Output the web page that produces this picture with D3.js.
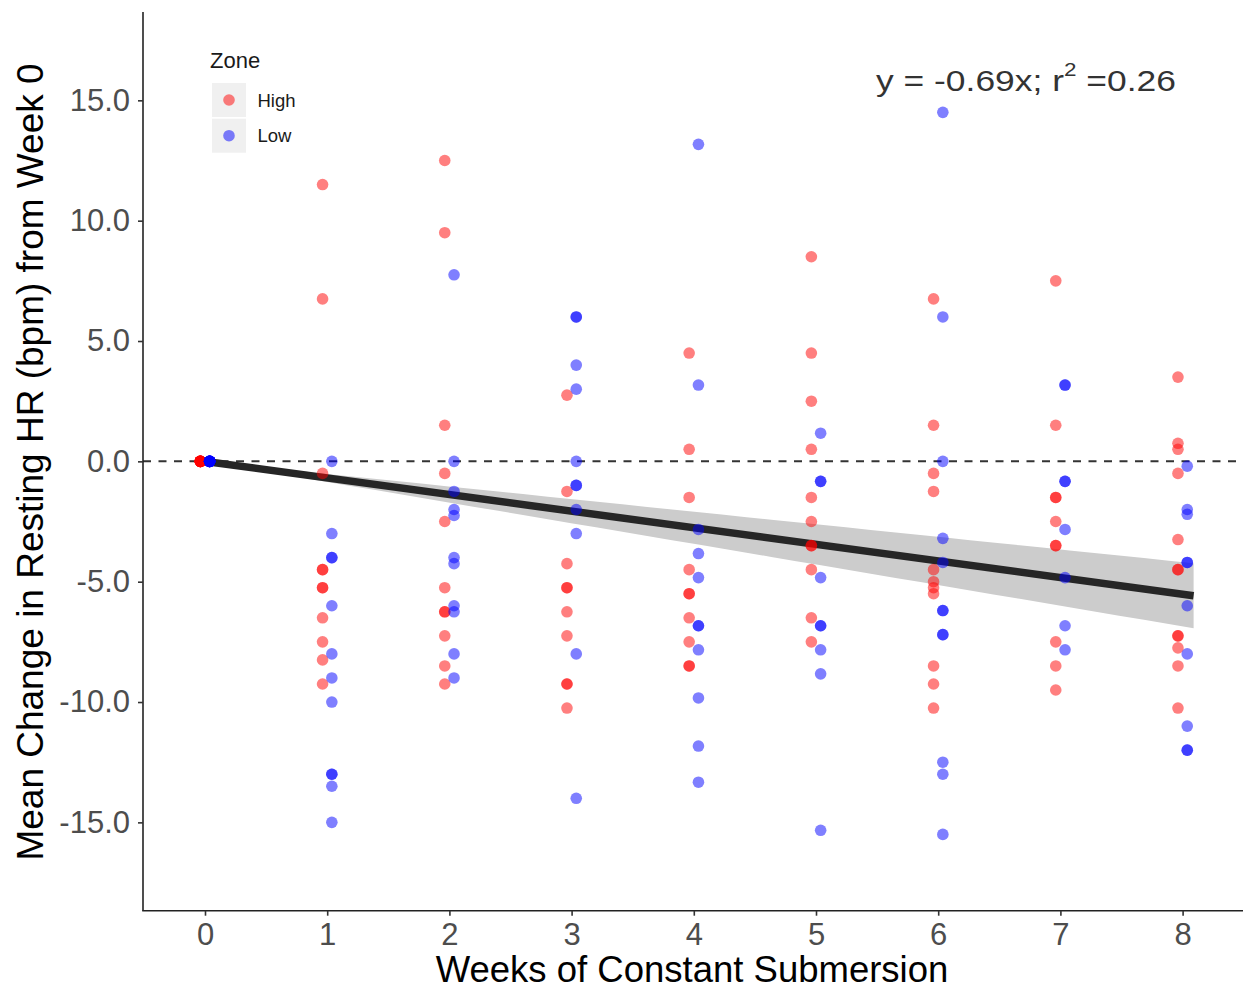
<!DOCTYPE html>
<html><head><meta charset="utf-8">
<script src="https://cdn.jsdelivr.net/npm/d3@7"></script>
<style>
body{margin:0;background:#fff}
svg{display:block}
text{font-family:"Liberation Sans", Arial, Helvetica, sans-serif}
</style>
</head><body>
<svg id="chart" width="1243" height="990"></svg>
<script>
// ---- data ----
const weeks = [0, 1, 2, 3, 4, 5, 6, 7, 8];
const zones = ["High", "Low"];
const zoneColors = ["#ff0000", "#0000ff"];
// mean change in resting HR per individual, grouped by week (High zone)
const highValues = [
  [0,0,0,0,0,0,0,0,0,0,0],
  [11.5, 6.75, -0.5, -4.5, -4.5, -5.25, -5.25, -6.5, -7.5, -8.25, -9.25],
  [12.5, 9.5, 1.5, -0.5, -2.5, -5.25, -6.25, -6.25, -7.25, -8.5, -9.25],
  [2.75, -1.25, -4.25, -5.25, -5.25, -6.25, -7.25, -9.25, -9.25, -10.25],
  [4.5, 0.5, -1.5, -4.5, -5.5, -5.5, -6.5, -7.5, -8.5, -8.5],
  [8.5, 4.5, 2.5, 0.5, -1.5, -2.5, -3.5, -3.5, -4.5, -6.5, -7.5],
  [6.75, 1.5, -0.5, -1.25, -4.5, -5, -5.25, -5.5, -8.5, -9.25, -10.25],
  [7.5, 1.5, -1.5, -1.5, -2.5, -3.5, -3.5, -7.5, -8.5, -9.5],
  [3.5, 0.75, 0.5, -0.5, -3.25, -4.5, -4.5, -7.25, -7.25, -7.75, -8.5, -10.25]
];
// (Low zone)
const lowValues = [
  [0,0,0,0,0,0,0,0,0,0,0],
  [0, -3, -4, -4, -6, -8, -9, -10, -13, -13, -13.5, -15],
  [7.75, 0, -1.25, -2, -2.25, -4, -4.25, -6, -6.25, -8, -9],
  [6, 6, 4, 3, 0, -1, -1, -2, -3, -8, -14],
  [13.17, 3.17, -2.83, -3.83, -4.83, -6.83, -6.83, -7.83, -9.83, -11.83, -13.33],
  [1.17, -0.83, -0.83, -4.83, -6.83, -6.83, -7.83, -8.83, -15.33],
  [14.5, 6, 0, -3.2, -4.2, -6.2, -6.2, -7.2, -7.2, -12.5, -13, -15.5],
  [3.17, 3.17, -0.83, -0.83, -2.83, -4.83, -6.83, -7.83],
  [-0.2, -2, -2.2, -4.2, -4.2, -6, -8, -11, -12, -12]
];
const yTicks = [-15, -10, -5, 0, 5, 10, 15];
const xTicks = weeks;
const fitSlope = -0.69;          // regression through origin
const fitCIPerWeek = 0.167;      // half-width of 95% band per week
const fitRange = [-0.04, 8.09];
const annotationMain = "y = -0.69x; r";
const annotationSup = "2";
const annotationTail = " =0.26";
const xTitle = "Weeks of Constant Submersion";
const yTitle = "Mean Change in Resting HR (bpm) from Week 0";
const legendTitle = "Zone";

// ---- layout ----
const svg = d3.select("#chart");
const panel = {left: 143, right: 1243, top: 12, bottom: 910.7};
const x = d3.scaleLinear().domain([0, 8]).range([205, 1182.6]);
const y = d3.scaleLinear().domain([-18.67, 18.67]).range([panel.bottom, panel.top]);
const dodge = 0.038;

// reference dashed line at 0
svg.append("line")
  .attr("x1", panel.left).attr("x2", panel.right)
  .attr("y1", y(0)).attr("y2", y(0))
  .attr("stroke", "#333").attr("stroke-width", 2)
  .attr("stroke-dasharray", "8,7.5");

// smooth band + line
const fitX = d3.range(fitRange[0], fitRange[1] + 1e-9, (fitRange[1] - fitRange[0]) / 40);
const band = d3.area()
  .x(d => x(d))
  .y0(d => y(fitSlope * d - fitCIPerWeek * Math.abs(d)))
  .y1(d => y(fitSlope * d + fitCIPerWeek * Math.abs(d)));
svg.append("path").datum(fitX).attr("d", band).attr("fill", "#cccccc");
svg.append("path").datum(fitRange)
  .attr("d", d3.line().x(d => x(d)).y(d => y(fitSlope * d)))
  .attr("stroke", "#262626").attr("stroke-width", 7.5).attr("fill", "none");

// points
const pts = [];
[highValues, lowValues].forEach((series, zi) => {
  series.forEach((vals, wi) => {
    vals.forEach(v => pts.push({week: weeks[wi], value: v, zone: zi}));
  });
});
svg.append("g").selectAll("circle").data(pts).join("circle")
  .attr("cx", d => x(d.week + (d.zone === 0 ? -dodge : dodge)))
  .attr("cy", d => y(d.value))
  .attr("r", 5.8)
  .attr("fill", d => zoneColors[d.zone])
  .attr("fill-opacity", 0.5);

// axes lines
svg.append("line").attr("x1", panel.left).attr("x2", panel.left)
  .attr("y1", panel.top).attr("y2", panel.bottom)
  .attr("stroke", "#222").attr("stroke-width", 1.6);
svg.append("line").attr("x1", panel.left - 0.8).attr("x2", panel.right)
  .attr("y1", panel.bottom).attr("y2", panel.bottom)
  .attr("stroke", "#222").attr("stroke-width", 1.6);

const yAxis = svg.append("g").attr("transform", `translate(${panel.left},0)`)
  .call(d3.axisLeft(y).tickValues(yTicks).tickFormat(d => d.toFixed(1)).tickSize(5).tickPadding(8));
const xAxis = svg.append("g").attr("transform", `translate(0,${panel.bottom})`)
  .call(d3.axisBottom(x).tickValues(xTicks).tickFormat(d => String(d)).tickSize(5).tickPadding(7));
[yAxis, xAxis].forEach(g => {
  g.select(".domain").remove();
  g.selectAll(".tick line").attr("stroke", "#333").attr("stroke-width", 1.6);
  g.selectAll(".tick text").attr("fill", "#4d4d4d").style("font-size", "31px")
    .style("font-family", '"Liberation Sans", Arial, sans-serif');
});

// titles
svg.append("text").attr("x", 692).attr("y", 982).attr("text-anchor", "middle")
  .style("font-size", "36.5px").attr("fill", "#000").text(xTitle);
svg.append("text").attr("transform", "translate(43,462) rotate(-90)").attr("text-anchor", "middle")
  .style("font-size", "37px").attr("fill", "#000").text(yTitle);

// annotation (stretched horizontally to the reference width)
const annG = svg.append("g").attr("transform", "translate(876,90.7)");
const ann = annG.append("text").attr("x", 0).attr("y", 0)
  .style("font-size", "30px").attr("fill", "#333");
ann.append("tspan").text(annotationMain);
ann.append("tspan").attr("dy", -15).style("font-size", "19px").text(annotationSup);
ann.append("tspan").attr("dy", 15).text(annotationTail);
const annW = ann.node().getComputedTextLength();
const annTarget = 300;
if (annW > 0) annG.attr("transform", `translate(876,90.7) scale(${annTarget / annW},1)`);

// legend
svg.append("text").attr("x", 210).attr("y", 68.3).style("font-size", "22px").attr("fill", "#1a1a1a").text(legendTitle);
const leg = svg.append("g").selectAll("g").data(zones).join("g")
  .attr("transform", (d, i) => `translate(212,${83 + i * 35.7})`);
leg.append("rect").attr("width", 34).attr("height", 34).attr("fill", "#f0f0f0");
leg.append("circle").attr("cx", 17).attr("cy", 17).attr("r", 5.8)
  .attr("fill", (d, i) => zoneColors[i]).attr("fill-opacity", 0.5);
leg.append("text").attr("x", 45.5).attr("y", 23.7).style("font-size", "18.5px").attr("fill", "#1a1a1a").text(d => d);
</script>
</body></html>
